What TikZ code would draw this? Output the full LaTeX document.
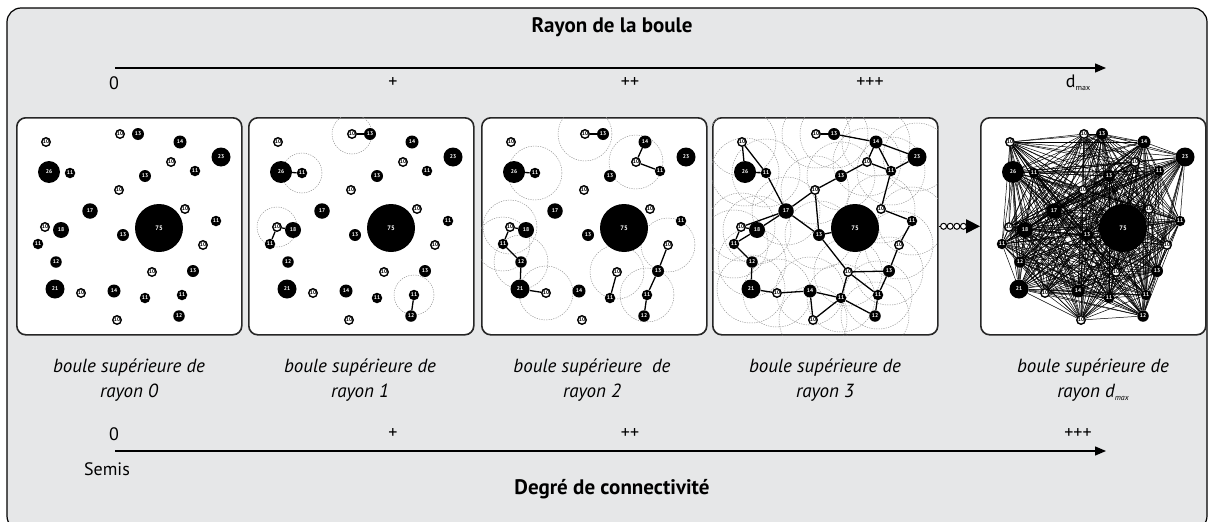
\documentclass[tikz,border=0pt]{standalone}
\usepackage{fontspec}
\setmainfont{PT Sans}
\usetikzlibrary{arrows.meta}
\pgfdeclarelayer{back}
\pgfdeclarelayer{mid}
\pgfsetlayers{back,mid,main}
\definecolor{fond}{RGB}{230,231,232}
\definecolor{cercle}{RGB}{150,150,150}

% semis : numero / x / y / valeur (dans le panneau)
\def\semis{1/30/25/10, 2/104/17/10, 3/122/17/13, 4/164/25/14, 5/205/40/23,
  6/155/45/10, 7/179/54/11, 8/33/55/26, 9/54/56/11, 10/129/59/13,
  11/103/73/10, 12/74/94/17, 13/169/92/10, 14/200/104/11, 15/29/110/10,
  16/45/113/18, 17/22/127/11, 18/107/118/13, 19/143/111/75, 20/187/128/10,
  21/40/145/12, 22/136/155/10, 23/177/154/13, 24/39/172/21, 25/65/176/10,
  26/98/174/14, 27/129/181/11, 28/166/178/11, 29/163/199/12, 30/101/203/10}
\newcommand{\sommets}[1]{\foreach \i/\x/\y/\v in \semis {\node[v\v] (#1\i) at (\x,\y) {\v};}}

\tikzset{
  panneau/.style={draw=black!85, line width=1.6pt, fill=white, rounded corners=9pt,
    minimum width=225pt, minimum height=217pt, inner sep=0pt, anchor=north west},
  sommet/.style={circle, inner sep=0pt, font=\fontsize{5.5}{5.5}\selectfont\bfseries},
  blanc/.style={sommet, draw=black, line width=1.4pt, fill=white},
  noir/.style={sommet, fill=black, text=white},
  v10/.style={blanc, minimum size=8.5pt},
  v11/.style={noir, minimum size=10.5pt},
  v12/.style={noir, minimum size=11.5pt},
  v13/.style={noir, minimum size=12pt},
  v14/.style={noir, minimum size=13pt},
  v17/.style={noir, minimum size=15.5pt},
  v18/.style={noir, minimum size=16pt},
  v21/.style={noir, minimum size=19pt},
  v23/.style={noir, minimum size=19pt},
  v26/.style={noir, minimum size=22pt},
  v75/.style={noir, minimum size=48pt, font=\fontsize{6.5}{6.5}\selectfont\bfseries},
  lien/.style={line width=1.3pt},
  fil/.style={line width=0.5pt},
  boule/.style={draw=cercle, line width=0.5pt, dash pattern=on 1.2pt off 1.2pt},
  axe/.style={line width=1.3pt, -{Triangle[length=11pt,width=9pt]}},
  grad/.style={font=\fontsize{18}{18}\selectfont},
  titre/.style={font=\fontsize{21}{21}\selectfont\bfseries},
  legende/.style={font=\fontsize{19}{25}\selectfont\itshape, align=center},
  point/.style={circle, draw=black, line width=1pt, fill=white, minimum size=6pt, inner sep=0pt},
}

\begin{document}
\begin{tikzpicture}[x=1pt, y=-1pt]
\useasboundingbox (0,0) rectangle (1208,522);
\begin{pgfonlayer}{back}
  \draw[fill=fond, line width=1.2pt, rounded corners=14pt] (7,8) rectangle (1207,530);
\end{pgfonlayer}

% axe du haut
\node[titre] (rayon) at (612,27) {Rayon de la boule};
\coordinate (r0) at (115,68);
\coordinate (rmax) at (1106,68);
\draw[axe] (r0) -- (rmax);
\node[grad] (h0) at (114,83) {0};
\node[grad] (h1) at (393,83) {+};
\node[grad] (h2) at (630,83) {++};
\node[grad] (h3) at (870,83) {+++};
\node[grad] (h4) at (1078,83) {d\raisebox{-3pt}{\fontsize{8}{8}\selectfont max}};

% panneaux
\begin{pgfonlayer}{back}
  \node[panneau] (pan1) at (16,117) {};
  \node[panneau] (pan2) at (248,117) {};
  \node[panneau] (pan3) at (481,117) {};
  \node[panneau] (pan4) at (712,117) {};
  \node[panneau] (pan5) at (980,117) {};
\end{pgfonlayer}

% rayon 0
\begin{scope}[shift={(16,117)}]
  \sommets{a}
\end{scope}

% rayon 1
\begin{scope}[shift={(248,117)}]
  \sommets{b}
\end{scope}
\begin{pgfonlayer}{mid}
  \begin{scope}
    \clip[rounded corners=9pt] (pan2.north west) rectangle (pan2.south east);
    \foreach \i in {2,9,15,28} \draw[boule] (b\i.center) circle (20pt);
  \end{scope}
  \foreach \a/\b in {2/3, 8/9, 15/16, 15/17, 28/29} \draw[lien] (b\a) -- (b\b);
\end{pgfonlayer}

% rayon 2
\begin{scope}[shift={(481,117)}]
  \sommets{c}
\end{scope}
\begin{pgfonlayer}{mid}
  \begin{scope}
    \clip[rounded corners=9pt] (pan3.north west) rectangle (pan3.south east);
    \foreach \i in {2,9,6,15,17,21,25,22,20,28} \draw[boule] (c\i.center) circle (27pt);
  \end{scope}
  \foreach \a/\b in {2/3, 8/9, 4/6, 6/7, 15/16, 15/17, 17/21, 21/24, 24/25,
    22/27, 20/23, 23/28, 28/29} \draw[lien] (c\a) -- (c\b);
\end{pgfonlayer}

% rayon 3
\begin{scope}[shift={(712,117)}]
  \sommets{d}
\end{scope}
\begin{pgfonlayer}{mid}
  \begin{scope}
    \clip[rounded corners=9pt] (pan4.north west) rectangle (pan4.south east);
    \foreach \i in {1,...,18,20,21,...,30} \draw[boule] (d\i.center) circle (34pt);
  \end{scope}
  \foreach \a/\b in {2/3, 3/4, 4/5, 4/6, 4/7, 6/7, 5/7, 1/8, 1/9, 8/9, 9/12,
    6/10, 10/11, 11/12, 11/18, 12/18, 12/15, 12/16, 15/16, 15/17, 16/17,
    17/21, 21/24, 24/25, 25/26, 26/30, 26/27, 27/30, 27/29, 22/27, 18/22,
    22/23, 22/28, 28/29, 23/28, 20/23, 14/20, 13/14, 7/13, 18/19}
    \draw[lien] (d\a) -- (d\b);
\end{pgfonlayer}

% rayon dmax
\begin{scope}[shift={(980,117)}]
  \sommets{e}
\end{scope}
\begin{pgfonlayer}{mid}
  \foreach \i in {1,...,30}{
    \foreach \j in {1,...,30}{
      \ifnum\j>\i \draw[fil] (e\i) -- (e\j);\fi
    }
  }
\end{pgfonlayer}

% passage a dmax
\draw[line width=1pt, -{Triangle[length=14pt,width=14pt]}] (pan4.east) -- (pan5.west)
  node[point, pos=0.12] {} node[point, pos=0.28] {}
  node[point, pos=0.44] {} node[point, pos=0.6] {};

% legendes
\node[legende] (l1) at (129,380) {boule supérieure de\\rayon 0};
\node[legende] (l2) at (360,380) {boule supérieure de\\rayon 1};
\node[legende] (l3) at (592,380) {boule supérieure~ de\\rayon 2};
\node[legende] (l4) at (825,380) {boule supérieure de\\rayon 3};
\node[legende] (l5) at (1093,380) {boule supérieure de\\rayon d\raisebox{-3pt}{\fontsize{8}{8}\selectfont max}};

% axe du bas
\node[grad] (b0) at (114,434) {0};
\node[grad] (b1) at (393,434) {+};
\node[grad] (b2) at (630,434) {++};
\node[grad] (b3) at (1078,434) {+++};
\coordinate (c0) at (115,451);
\coordinate (cmax) at (1106,451);
\draw[axe] (c0) -- (cmax);
\node[grad] (semis) at (107,469) {Semis};
\node[titre] (degre) at (612,489) {Degré de connectivité};
\end{tikzpicture}
\end{document}
